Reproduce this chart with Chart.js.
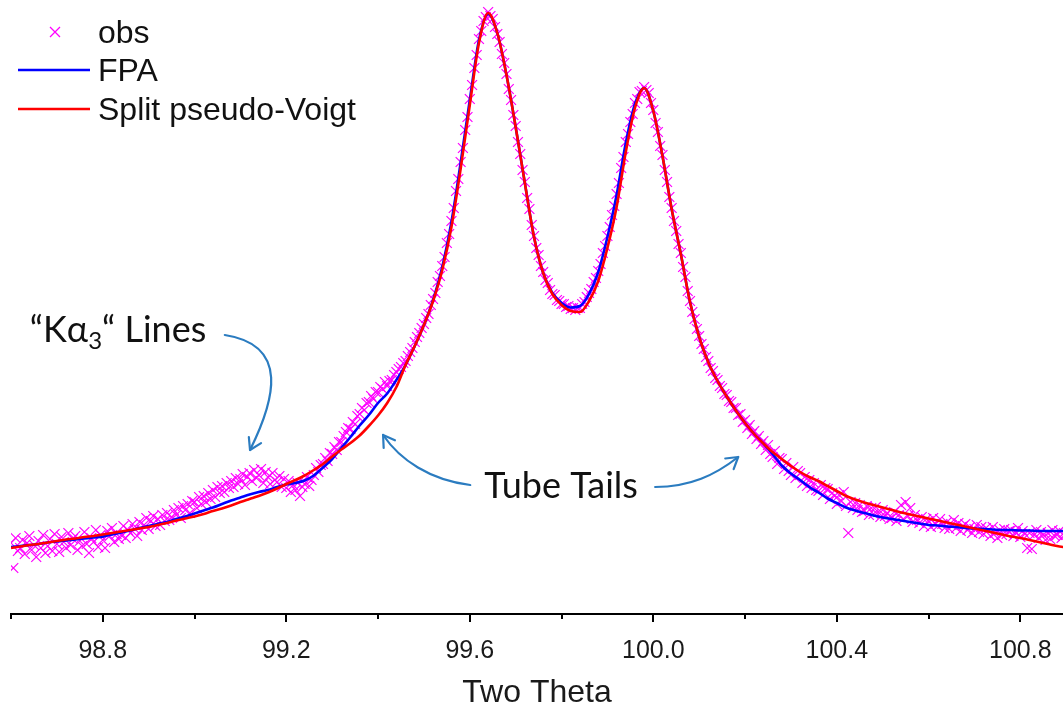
<!DOCTYPE html>
<html>
<head>
<meta charset="utf-8">
<title>FPA vs Split pseudo-Voigt</title>
<script src="https://cdn.jsdelivr.net/npm/chart.js@4.4.1/dist/chart.umd.min.js"></script>
<style>
  html, body { margin: 0; padding: 0; background: #fff; }
  #wrap { width: 1063px; height: 712px; position: relative; }
</style>
</head>
<body>
<div id="wrap"><canvas id="profile"></canvas></div>
<script>
// DATA (two theta in degrees, intensity in arbitrary units)
const obsStart = 98.6;
const obsStep = 0.005;
const obsValues = [
  71, 46, 76, 63, 66, 74, 60, 71, 78, 64, 69, 57, 73, 66, 79, 61, 68, 75, 63, 80,
  70, 62, 77, 72, 66, 81, 69, 75, 78, 64, 73, 68, 82, 70, 61, 76, 72, 84, 67, 79,
  74, 66, 83, 78, 86, 72, 80, 75, 79, 88, 76, 84, 81, 90, 85, 78, 92, 84, 89, 96,
  85, 93, 98, 88, 95, 89, 99, 93, 101, 94, 97, 104, 99, 106, 96, 108, 104, 110, 101, 113,
  112, 106, 117, 110, 118, 112, 121, 115, 124, 117, 127, 121, 128, 122, 131, 126, 133, 127, 136, 130,
  135, 140, 129, 137, 141, 133, 144, 136, 139, 145, 131, 142, 137, 130, 141, 134, 132, 138, 127, 135,
  126, 133, 122, 129, 124, 131, 118, 127, 130, 137, 128, 134, 139, 146, 142, 149, 150, 156, 153, 161,
  160, 167, 164, 172, 172, 178, 182, 186, 185, 192, 190, 198, 200, 206, 204, 211, 212, 218, 215, 222,
  222, 227, 225, 232, 228, 233, 234, 239, 242, 245, 247, 251, 253, 258, 262, 266, 272, 277, 281, 286,
  290, 296, 300, 309, 315, 321, 332, 338, 348, 357, 371, 380, 393, 406, 423, 435, 452, 466, 484, 497,
  515, 529, 546, 559, 575, 583, 593, 597, 602, 598, 595, 587, 580, 572, 560, 551, 540, 525, 514, 499,
  488, 472, 460, 444, 432, 416, 405, 389, 378, 366, 359, 348, 342, 334, 331, 324, 320, 319, 314, 313,
  310, 310, 307, 308, 305, 306, 304, 306, 306, 310, 312, 317, 321, 325, 332, 336, 343, 350, 361, 368,
  378, 387, 399, 408, 420, 431, 446, 457, 472, 480, 492, 500, 511, 515, 522, 523, 527, 524, 521, 511,
  504, 491, 482, 468, 459, 444, 432, 417, 406, 393, 383, 370, 361, 347, 337, 323, 313, 302, 295, 285,
  278, 270, 265, 257, 253, 246, 243, 236, 234, 228, 226, 220, 219, 213, 212, 206, 206, 199, 200, 192,
  194, 186, 189, 180, 183, 175, 178, 170, 173, 164, 169, 160, 157, 163, 150, 156, 155, 145, 151, 143,
  139, 147, 136, 143, 141, 131, 137, 128, 134, 126, 131, 124, 123, 129, 119, 126, 125, 115, 121, 118,
  110, 119, 113, 122, 108, 81, 112, 106, 111, 104, 109, 102, 103, 108, 99, 106, 100, 107, 102, 97,
  104, 98, 101, 95, 96, 102, 93, 99, 109, 95, 112, 98, 106, 92, 99, 94, 91, 97, 88, 95,
  93, 87, 96, 90, 88, 95, 90, 86, 92, 85, 89, 94, 86, 91, 83, 88, 90, 84, 87, 81,
  85, 89, 82, 87, 80, 86, 84, 78, 87, 81, 76, 84, 79, 85, 80, 83, 84, 78, 82, 86,
  77, 83, 80, 66, 81, 65, 79, 84, 76, 82, 79, 74, 81, 75, 84, 78, 79, 83, 76, 81
];

const fitStart = 98.6;
const fitStep = 0.02;
const fpaValues = [
  67, 68, 69, 70, 71.5, 72.5, 73.5, 74.5, 75.5, 76.5,
  77.4, 79.5, 81.5, 83.5, 86, 88, 90, 92, 95, 97.5,
  100.5, 103.5, 106.5, 110, 113.5, 116.5, 119.5, 122, 124, 127,
  129.5, 131, 133.5, 138.5, 146.5, 155, 166, 177, 188.5, 199,
  211, 220.5, 234, 249, 268, 289, 314, 347, 392, 451,
  514, 574, 600, 581, 539, 487, 431, 377, 341, 321,
  311, 306.5, 308, 320, 342, 377, 419, 471, 510, 526,
  503, 458, 405, 360, 312, 277, 251.5, 233, 217.5, 203.5,
  191, 180, 170.5, 160, 148.5, 140.5, 134, 127, 121.5, 115.5,
  111, 106.5, 103.5, 101, 98.5, 96.5, 95, 93.5, 92, 90.5,
  89, 88.5, 87.5, 87, 86, 85.5, 85, 84.5, 84, 84,
  83.5, 83.5, 83, 83, 83, 83
];
const spvValues = [
  66, 67.5, 69, 70, 71.5, 73, 74.5, 75.5, 77, 78,
  79.5, 81, 82.5, 84, 85.5, 87, 89, 91, 93.5, 95.5,
  97.5, 100, 103, 105.5, 108.5, 112, 115, 118, 121.5, 125.5,
  130, 134, 138.5, 144, 150, 157.5, 164.5, 171, 178.5, 188,
  198.5, 211, 227, 249, 268, 289, 313, 344, 387, 445,
  509, 571, 601, 581, 539, 487, 431, 377, 341, 320,
  309, 303, 302, 313, 333, 366, 407, 462, 506, 526,
  503, 458, 405, 360, 312, 277, 251.5, 233, 217.5, 203.5,
  191, 180, 170.5, 162, 155, 148, 142, 137, 133, 128,
  123, 118, 114.5, 111.5, 109, 106.5, 104, 101.5, 99.5, 97.5,
  95.5, 93.5, 91.5, 89.5, 87.5, 85.5, 83.5, 81.5, 79.5, 77.5,
  76, 74, 72, 70, 68, 66.5
];

const xMin = 98.6, xMax = 100.893, xStep = 0.2;
const majorTicks = [98.8, 99.2, 99.6, 100.0, 100.4, 100.8];

const toPoints = (start, step, vals) =>
  vals.map((v, i) => ({ x: +(start + i * step).toFixed(3), y: v }));

const isMajor = v => majorTicks.some(m => Math.abs(m - v) < 1e-6);

// x-axis tick marks: long for labelled ticks, short in between
const axisTicks = {
  id: 'axisTicks',
  afterDraw(chart) {
    const s = chart.scales.x, c = chart.ctx;
    c.save();
    c.strokeStyle = '#000';
    c.lineWidth = 2;
    s.ticks.forEach(t => {
      const px = Math.round(s.getPixelForValue(t.value));
      const len = isMajor(t.value) ? 8 : 5;
      c.beginPath();
      c.moveTo(px, s.top);
      c.lineTo(px, s.top + len);
      c.stroke();
    });
    c.restore();
  }
};

function arrow(c, p0, c1, c2, p1) {
  c.beginPath();
  c.moveTo(p0[0], p0[1]);
  c.bezierCurveTo(c1[0], c1[1], c2[0], c2[1], p1[0], p1[1]);
  c.stroke();
  const ang = Math.atan2(p1[1] - c2[1], p1[0] - c2[0]);
  const L = 13, sp = 0.55;
  c.beginPath();
  c.moveTo(p1[0] - L * Math.cos(ang - sp), p1[1] - L * Math.sin(ang - sp));
  c.lineTo(p1[0], p1[1]);
  c.lineTo(p1[0] - L * Math.cos(ang + sp), p1[1] - L * Math.sin(ang + sp));
  c.stroke();
}

// legend in the upper left corner + the two callouts
const overlay = {
  id: 'overlay',
  afterDatasetsDraw(chart) {
    const c = chart.ctx;
    const { x, y } = chart.scales;
    const P = (a, b) => [x.getPixelForValue(a), y.getPixelForValue(b)];
    c.save();

    // legend
    const ds = chart.data.datasets;
    c.font = '32px "Liberation Sans", Arial, sans-serif';
    c.fillStyle = '#111';
    c.textBaseline = 'alphabetic';
    c.strokeStyle = ds[0].borderColor;
    c.lineWidth = 1.3;
    c.beginPath();
    c.moveTo(50, 27); c.lineTo(60, 37);
    c.moveTo(60, 27); c.lineTo(50, 37);
    c.stroke();
    c.fillText(ds[0].label, 98, 43);
    [[ds[1], 70, 81], [ds[2], 109, 120]].forEach(([d, ly, by]) => {
      c.strokeStyle = d.borderColor;
      c.lineWidth = 2.6;
      c.beginPath(); c.moveTo(18, ly); c.lineTo(90, ly); c.stroke();
      c.fillText(d.label, 98, by);
    });

    // callout texts
    c.fillStyle = '#111';
    const big = '36px Lato, "Open Sans", sans-serif';
    const sub = '24px Lato, "Open Sans", sans-serif';
    let [tx, ty] = P(98.641, 272);
    c.font = big;
    c.fillText('\u201CK\u03B1', tx, ty);
    tx += c.measureText('\u201CK\u03B1').width;
    c.font = sub;
    c.fillText('3', tx, ty + 7);
    tx += c.measureText('3').width;
    c.font = big;
    c.fillText('\u201C Lines', tx, ty);

    c.textAlign = 'center';
    const [ux, uy] = P(99.799, 116);
    c.fillText('Tube Tails', ux, uy);

    // arrows
    c.strokeStyle = '#2b7cc0';
    c.lineWidth = 2.2;
    c.lineCap = 'round';
    c.lineJoin = 'round';
    arrow(c, P(99.066, 279), P(99.208, 269), P(99.175, 214), P(99.121, 164));
    arrow(c, P(99.601, 129), P(99.513, 134), P(99.448, 154), P(99.411, 179));
    arrow(c, P(100.004, 127), P(100.080, 127), P(100.135, 139), P(100.185, 157));
    c.restore();
  }
};

window.onload = function () {
  const ctx = document.getElementById('profile').getContext('2d');

  new Chart(ctx, {
    type: 'scatter',
    data: {
      datasets: [{
        label: 'obs',
        data: toPoints(obsStart, obsStep, obsValues),
        pointStyle: 'crossRot',
        pointRadius: 7,
        borderColor: '#ff00ff',
        borderWidth: 1.2,
        order: 3
      }, {
        label: 'FPA',
        data: toPoints(fitStart, fitStep, fpaValues),
        showLine: true,
        borderColor: '#0000ff',
        borderWidth: 2.6,
        pointRadius: 0,
        cubicInterpolationMode: 'monotone',
        order: 2
      }, {
        label: 'Split pseudo-Voigt',
        data: toPoints(fitStart, fitStep, spvValues),
        showLine: true,
        borderColor: '#ff0000',
        borderWidth: 2.6,
        pointRadius: 0,
        cubicInterpolationMode: 'monotone',
        order: 1
      }]
    },
    options: {
      responsive: true,
      maintainAspectRatio: false,
      animation: false,
      layout: { autoPadding: false, padding: { left: 11, right: 0, top: 0, bottom: 0 } },
      plugins: {
        legend: { display: false },
        tooltip: { enabled: false }
      },
      scales: {
        x: {
          type: 'linear',
          min: xMin,
          max: xMax,
          afterFit: s => {
            s.height = 98;
            s.paddingLeft = 0;
            s.paddingRight = 0;
          },
          ticks: {
            stepSize: xStep,
            includeBounds: false,
            autoSkip: false,
            maxRotation: 0,
            padding: 22,
            color: '#1a1a1a',
            font: { family: '"Liberation Sans", Arial, sans-serif', size: 25 },
            callback: v => isMajor(v) ? v.toFixed(1) : ''
          },
          grid: { display: true, drawOnChartArea: false, drawTicks: false },
          border: { display: true, color: '#000', width: 2 },
          title: {
            display: true,
            text: 'Two Theta',
            color: '#1a1a1a',
            padding: { top: 0, bottom: 0 },
            font: { family: '"Liberation Sans", Arial, sans-serif', size: 32 }
          }
        },
        y: {
          display: false,
          min: 0,
          max: 614
        }
      }
    },
    plugins: [axisTicks, overlay]
  });
};
</script>
</body>
</html>
